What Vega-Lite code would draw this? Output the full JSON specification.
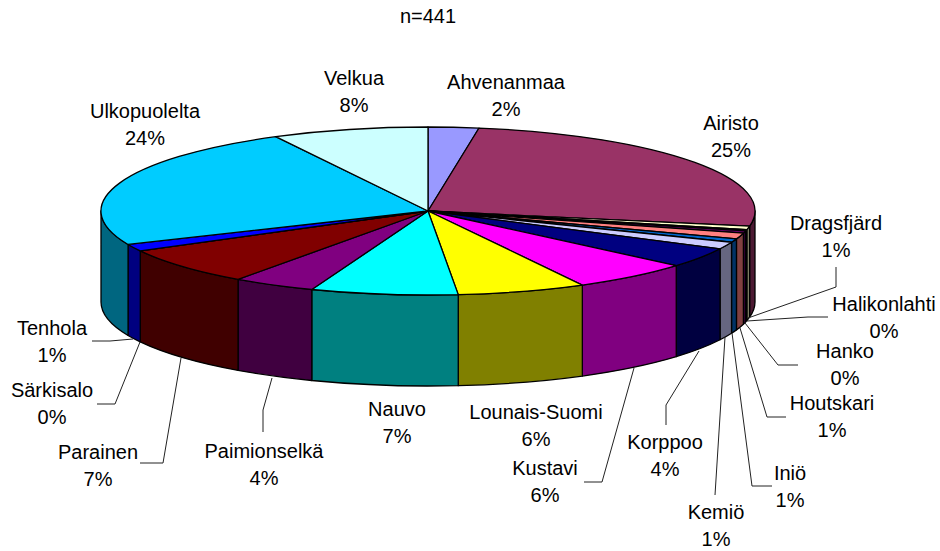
{"$schema":"https://vega.github.io/schema/vega-lite/v6.json","width":940,"height":551,"padding":0,"autosize":{"type":"none"},"background":"white","config":{"view":{"stroke":null},"text":{"font":"Liberation Sans"}},
"data":{"values":[
{"name":"Ahvenanmaa","count":11},{"name":"Airisto","count":112},{"name":"Dragsfjärd","count":3},{"name":"Halikonlahti","count":1},{"name":"Hanko","count":2},{"name":"Houtskari","count":5},{"name":"Iniö","count":3},{"name":"Kemiö","count":6},{"name":"Korppoo","count":17},{"name":"Kustavi","count":26},{"name":"Lounais-Suomi","count":28},{"name":"Nauvo","count":32},{"name":"Paimionselkä","count":18},{"name":"Parainen","count":32},{"name":"Särkisalo","count":0},{"name":"Tenhola","count":6},{"name":"Ulkopuolelta","count":105},{"name":"Velkua","count":34}]},
"transform":[
{"window":[{"op":"sum","field":"count","as":"cum"}],"frame":[null,0]},
{"joinaggregate":[{"op":"sum","field":"count","as":"total"}]},
{"calculate":"(datum.cum-datum.count)/datum.total*2*PI","as":"a1"},
{"calculate":"datum.cum/datum.total*2*PI","as":"a2"},
{"calculate":"max(datum.a1,PI/2)","as":"w1"},
{"calculate":"min(datum.a2,3*PI/2)","as":"w2"},
{"calculate":"'M0,0L'+round(32700*sin(datum.a1))/100+','+round(-8400*cos(datum.a1))/100+'A327,84 0 0 1 '+round(32700*sin(datum.a2))/100+','+round(-8400*cos(datum.a2))/100+'Z'","as":"topPath"},
{"calculate":"'M'+round(32700*sin(datum.w1))/100+','+round(-8400*cos(datum.w1))/100+'A327,84 0 0 1 '+round(32700*sin(datum.w2))/100+','+round(-8400*cos(datum.w2))/100+'L'+round(32700*sin(datum.w2))/100+','+(round(-8400*cos(datum.w2))/100+91)+'A327,84 0 0 0 '+round(32700*sin(datum.w1))/100+','+(round(-8400*cos(datum.w1))/100+91)+'Z'","as":"wallPath"},
{"calculate":"datum.name+'\\n'+format(datum.count/datum.total,'.0%')","as":"label"},
{"calculate":"{'Velkua':-74,'Ahvenanmaa':78,'Airisto':303,'Dragsfjärd':408,'Halikonlahti':456,'Hanko':417,'Houtskari':404,'Iniö':362,'Kemiö':288,'Korppoo':237,'Kustavi':117,'Lounais-Suomi':108,'Nauvo':-31,'Paimionselkä':-164,'Parainen':-330,'Särkisalo':-376,'Tenhola':-376,'Ulkopuolelta':-283}[datum.name]","as":"lx"},
{"calculate":"{'Velkua':142,'Ahvenanmaa':138,'Airisto':97,'Dragsfjärd':-3,'Halikonlahti':-84,'Hanko':-131,'Houtskari':-183,'Iniö':-253,'Kemiö':-292,'Korppoo':-222,'Kustavi':-248,'Lounais-Suomi':-192,'Nauvo':-189,'Paimionselkä':-231,'Parainen':-232,'Särkisalo':-170,'Tenhola':-108,'Ulkopuolelta':109}[datum.name]","as":"ly"}
],
"layer":[
{"transform":[{"filter":"datum.w2>datum.w1"}],"mark":{"type":"point","filled":true,"size":4,"opacity":1,"stroke":"black","strokeWidth":1.3,"strokeJoin":"round"},
"encoding":{
"x":{"datum":0,"type":"quantitative","scale":{"domain":[-428,512],"nice":false,"zero":false},"axis":null},
"y":{"datum":0,"type":"quantitative","scale":{"domain":[-340,211],"nice":false,"zero":false},"axis":null},
"shape":{"field":"wallPath","type":"nominal","scale":null,"legend":null},
"fill":{"field":"name","type":"nominal","legend":null,"scale":{"domain":["Airisto","Dragsfjärd","Halikonlahti","Hanko","Houtskari","Iniö","Kemiö","Korppoo","Kustavi","Lounais-Suomi","Nauvo","Paimionselkä","Parainen","Särkisalo","Tenhola","Ulkopuolelta"],"range":["#4D1A33","#808066","#668080","#330033","#804040","#003366","#666680","#000040","#800080","#808000","#008080","#400040","#400000","#004040","#000080","#006680"]}}}},
{"mark":{"type":"point","filled":true,"size":4,"opacity":1,"stroke":"black","strokeWidth":1.3,"strokeJoin":"round"},
"encoding":{
"x":{"datum":0,"type":"quantitative","axis":null},
"y":{"datum":0,"type":"quantitative","axis":null},
"shape":{"field":"topPath","type":"nominal","scale":null,"legend":null},
"fill":{"field":"name","type":"nominal","legend":null,"scale":{"domain":["Ahvenanmaa","Airisto","Dragsfjärd","Halikonlahti","Hanko","Houtskari","Iniö","Kemiö","Korppoo","Kustavi","Lounais-Suomi","Nauvo","Paimionselkä","Parainen","Särkisalo","Tenhola","Ulkopuolelta","Velkua"],"range":["#9999FF","#993366","#FFFFCC","#CCFFFF","#660066","#FF8080","#0066CC","#CCCCFF","#000080","#FF00FF","#FFFF00","#00FFFF","#800080","#800000","#008080","#0000FF","#00CCFF","#CCFFFF"]}}}},
{"transform":[{"filter":"indexof(['Dragsfjärd','Halikonlahti','Hanko','Houtskari','Iniö','Kemiö','Korppoo','Kustavi','Paimionselkä','Parainen','Särkisalo','Tenhola'],datum.name)>=0"}],
"mark":{"type":"point","filled":false,"size":4,"opacity":1,"stroke":"#222222","strokeWidth":1,"fill":null},
"encoding":{
"x":{"datum":0,"type":"quantitative","axis":null},
"y":{"datum":0,"type":"quantitative","axis":null},
"shape":{"field":"name","type":"nominal","legend":null,"scale":{"domain":["Dragsfjärd","Halikonlahti","Hanko","Houtskari","Iniö","Kemiö","Korppoo","Kustavi","Paimionselkä","Parainen","Särkisalo","Tenhola"],"range":["M320,107L408,76L408,56","M319,110L380,106L400,106","M317,112L350,154L370,154","M312,117L339,206L358,206","M304,122L324,275L344,275","M297,126L287,284","M271,140L238,194L238,214","M206,157L174,271L156,271","M-156,167L-165,199L-165,221","M-247,147L-265,252L-288,252","M-288,131L-313,193L-331,193","M-295,128L-318,130L-336,130"]}}}},
{"mark":{"type":"text","fontSize":20,"lineHeight":27,"lineBreak":"\n","align":"center","baseline":"top","color":"black"},
"encoding":{"x":{"field":"lx","type":"quantitative","axis":null},"y":{"field":"ly","type":"quantitative","axis":null},"text":{"field":"label","type":"nominal"}}},
{"data":{"values":[{"t":"n=441"}]},"mark":{"type":"text","fontSize":20,"align":"center","baseline":"middle","color":"black"},
"encoding":{"x":{"datum":0,"type":"quantitative","axis":null},"y":{"datum":194,"type":"quantitative","axis":null},"text":{"field":"t","type":"nominal"}}}
],
"resolve":{"scale":{"fill":"independent","shape":"independent"}}}
